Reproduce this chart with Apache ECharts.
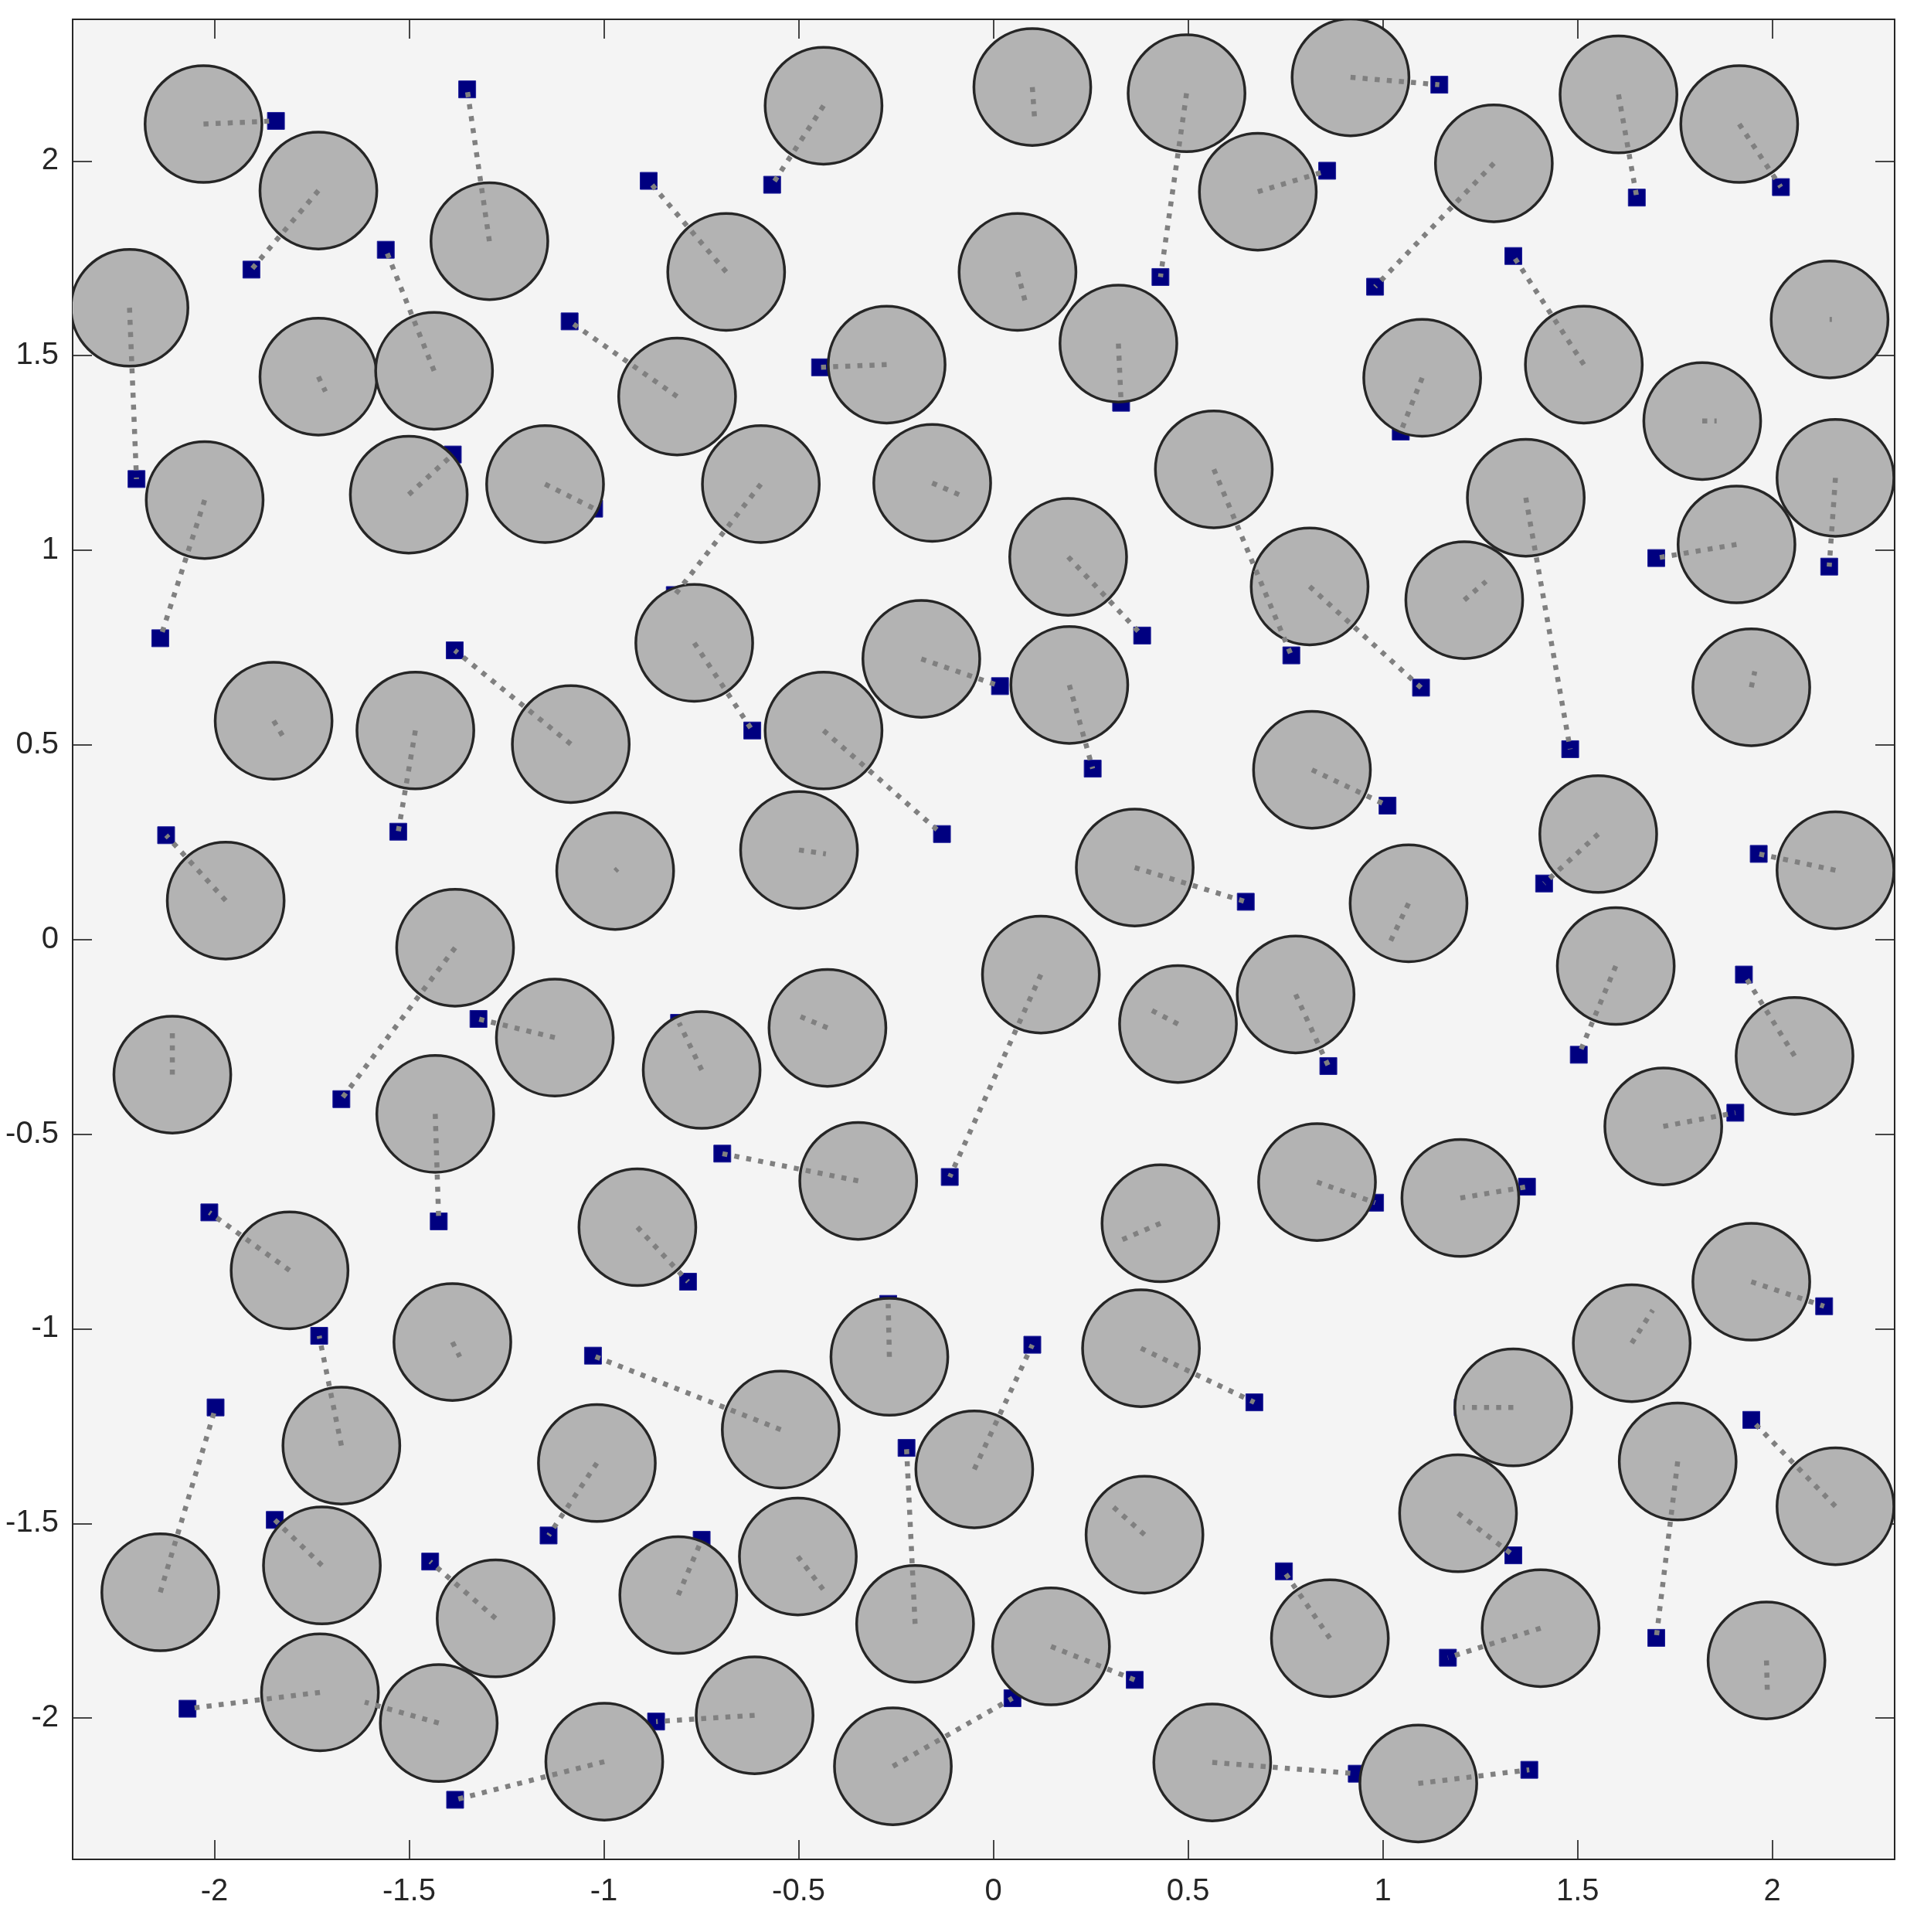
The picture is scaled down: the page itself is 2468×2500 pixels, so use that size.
<!DOCTYPE html>
<html>
<head>
<meta charset="utf-8">
<script src="https://cdn.jsdelivr.net/npm/echarts@6/dist/echarts.min.js"></script>
<style>html,body{margin:0;padding:0;background:#fff}#c{width:2468px;height:2500px}</style>
</head>
<body>
<div id="c"></div>
<script>
// particle (circle) centres
const circleX = [-2.028,-1.733,-1.294,-0.436,0.100,0.496,0.917,0.679,1.285,1.605,1.915,-2.218,-1.733,-1.436,-0.686,-0.812,-0.274,0.062,0.321,1.101,1.516,1.820,2.147,-2.025,-1.501,-1.151,-0.597,-0.157,0.192,0.566,0.812,1.209,1.367,1.908,2.162,1.946,-1.848,-1.484,-1.085,-0.768,-0.185,0.195,-0.436,0.818,-0.499,-0.971,-1.971,0.363,1.066,1.553,2.162,-1.382,0.122,-2.108,-1.126,-0.749,-0.426,0.474,0.776,1.598,2.057,-1.433,-0.347,0.831,1.199,1.720,0.429,-0.914,-1.807,1.946,-1.389,-0.267,0.379,1.639,-1.674,-0.546,-0.049,-1.018,1.335,1.757,2.162,-2.139,-1.724,-1.278,-0.809,-0.502,-0.201,0.388,1.193,1.405,0.864,0.148,1.985,-1.729,-1.424,-0.999,-0.613,-0.258,0.562,1.091];
const circleY = [2.095,1.924,1.794,2.142,2.190,2.174,2.215,1.921,1.994,2.171,2.095,1.623,1.446,1.461,1.715,1.395,1.477,1.715,1.531,1.443,1.477,1.332,1.593,1.129,1.143,1.170,1.170,1.173,0.983,1.208,0.907,0.872,1.135,1.015,1.186,0.648,0.562,0.537,0.502,0.762,0.721,0.654,0.537,0.436,0.230,0.176,0.100,0.185,0.093,0.271,0.178,-0.021,-0.090,-0.347,-0.252,-0.335,-0.227,-0.217,-0.141,-0.068,-0.299,-0.448,-0.620,-0.623,-0.664,-0.480,-0.729,-0.739,-0.850,-0.879,-1.034,-1.072,-1.050,-1.037,-1.300,-1.259,-1.361,-1.345,-1.202,-1.341,-1.456,-1.677,-1.608,-1.744,-1.684,-1.585,-1.758,-1.529,-1.474,-1.769,-1.795,-1.816,-1.852,-1.934,-2.013,-2.112,-1.993,-2.124,-2.114,-2.168];
// target (square) positions
const targetX = [-1.842,-1.905,-1.351,-0.568,0.106,0.429,1.145,0.857,0.980,1.652,2.022,-2.200,-1.715,-1.560,-0.885,-1.088,-0.445,0.084,0.328,1.046,1.335,1.857,2.153,-2.139,-1.388,-1.025,-0.818,-0.084,0.382,0.765,1.098,1.265,1.481,1.702,2.146,1.955,-1.820,-1.528,-1.383,-0.619,0.017,0.255,-0.132,1.012,-0.430,-0.965,-2.124,0.648,1.015,1.414,1.965,-1.674,-0.112,-2.108,-1.322,-0.807,-0.495,0.407,0.860,1.503,1.927,-1.424,-0.696,0.980,1.370,1.905,0.331,-0.784,-2.013,2.133,-1.370,-0.270,0.670,1.693,-1.731,-1.028,0.100,-1.142,1.205,1.702,1.946,-1.997,-1.845,-1.446,-0.749,-0.436,-0.223,0.306,1.335,1.167,0.746,0.363,1.987,-2.069,-1.614,-1.382,-0.866,0.049,0.933,1.376];
const targetY = [2.103,1.721,2.184,1.939,2.107,1.702,2.196,1.975,1.677,1.906,1.933,1.183,1.408,1.772,1.949,1.588,1.470,1.630,1.379,1.305,1.756,1.332,1.593,0.774,1.246,1.107,0.885,1.141,0.781,0.730,0.647,0.920,0.489,0.980,0.958,0.689,0.515,0.277,0.743,0.537,0.651,0.439,0.271,0.344,0.220,0.182,0.268,0.097,-0.014,0.144,0.220,-0.410,-0.610,-0.239,-0.204,-0.214,-0.198,-0.182,-0.325,-0.296,-0.090,-0.724,-0.550,-0.676,-0.635,-0.445,-0.771,-0.879,-0.701,-0.942,-1.072,-0.936,-1.189,-0.952,-1.018,-1.069,-1.041,-1.531,-1.202,-1.794,-1.234,-1.202,-1.491,-1.598,-1.542,-1.671,-1.306,-1.456,-1.582,-1.845,-1.623,-1.902,-1.928,-1.976,-1.959,-2.210,-2.009,-1.949,-2.143,-2.133];
const tickValues = [-2,-1.5,-1,-0.5,0,0.5,1,1.5,2];
const RADIUS = 0.15;

const pairs = circleX.map((x, i) => [x, circleY[i], targetX[i], targetY[i]]);
const squares = targetX.map((x, i) => [x, targetY[i]]);

const axisCommon = (pos, showLabel, margin) => ({
  position: pos,
  type: 'value',
  axisLine: { show: true, onZero: false, lineStyle: { color: '#262626', width: 2 } },
  axisTick: { show: true, inside: true, length: 25, customValues: tickValues, lineStyle: { color: '#262626', width: 1.7 } },
  axisLabel: { show: showLabel, margin: margin, customValues: tickValues, color: '#262626', fontSize: 40, fontFamily: 'Liberation Sans, Arial, sans-serif' },
  splitLine: { show: false }
});

const chart = echarts.init(document.getElementById('c'), null, { renderer: 'canvas' });
chart.setOption({
  animation: false,
  backgroundColor: '#ffffff',
  grid: { left: 94, top: 25, right: 16, bottom: 94, show: true, backgroundColor: '#f4f4f4', borderWidth: 0 },
  xAxis: [
    Object.assign(axisCommon('bottom', true, 22), { min: -2.364, max: 2.314 }),
    Object.assign(axisCommon('top', false, 8), { min: -2.364, max: 2.314 })
  ],
  yAxis: [
    Object.assign(axisCommon('left', true, 18), { min: -2.363, max: 2.364 }),
    Object.assign(axisCommon('right', false, 8), { min: -2.363, max: 2.364 })
  ],
  series: [
    {
      type: 'scatter', z: 2, data: squares, symbol: 'rect', symbolSize: 22,
      itemStyle: { color: '#000080', opacity: 1, borderColor: '#20209a', borderWidth: 1 }, silent: true
    },
    {
      type: 'custom', z: 3, data: pairs, clip: true, silent: true,
      renderItem: (params, api) => {
        const c = api.coord([api.value(0), api.value(1)]);
        const s = api.size([RADIUS, RADIUS]);
        return { type: 'circle', shape: { cx: c[0], cy: c[1], r: s[0] },
          style: { fill: '#b3b3b3', stroke: '#262626', lineWidth: 3.5 } };
      }
    },
    {
      type: 'custom', z: 4, data: pairs, clip: true, silent: true,
      renderItem: (params, api) => {
        const a = api.coord([api.value(0), api.value(1)]);
        const b = api.coord([api.value(2), api.value(3)]);
        return { type: 'line', shape: { x1: a[0], y1: a[1], x2: b[0], y2: b[1] },
          style: { stroke: '#808080', lineWidth: 6.5, lineDash: [6.5, 9.2], lineCap: 'butt' } };
      }
    }
  ]
});
</script>
</body>
</html>
